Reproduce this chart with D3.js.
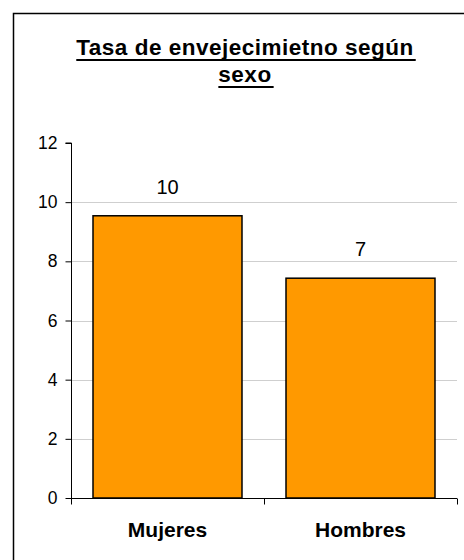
<!DOCTYPE html>
<html>
<head>
<meta charset="utf-8">
<script src="https://cdn.jsdelivr.net/npm/d3@7"></script>
<style>
  html, body { margin: 0; padding: 0; background: #fff; }
  svg { display: block; font-family: "Liberation Sans", Arial, sans-serif; }
</style>
</head>
<body>
<svg id="chart" width="464" height="560"></svg>
<script>
const titleLines = ["Tasa de envejecimietno según", "sexo"];
const categories = ["Mujeres", "Hombres"];
const values = [9.54, 7.43];
const valueLabels = ["10", "7"];
const yTicks = [0, 2, 4, 6, 8, 10, 12];

const svg = d3.select("#chart");
const W = 464, H = 560;
const margin = { left: 71, right: 7, top: 143, bottom: 62 };

// outer frame (extends beyond right/bottom edges)
svg.append("rect")
  .attr("x", 13.5).attr("y", 13.5)
  .attr("width", 500).attr("height", 600)
  .attr("fill", "#fff").attr("stroke", "#000").attr("stroke-width", 1.5);

// title with manual underline
const title = svg.append("g");
titleLines.forEach((t, i) => {
  const baseY = 55 + i * 27;
  const tx = title.append("text")
    .attr("x", 245).attr("y", baseY)
    .attr("text-anchor", "middle")
    .attr("font-size", 22.5).attr("font-weight", "bold")
    .attr("letter-spacing", "0.5px")
    .attr("fill", "#000")
    .text(t);
  const len = tx.node().getComputedTextLength();
  title.append("line")
    .attr("x1", 245 - len / 2).attr("x2", 245 + len / 2 + 2)
    .attr("y1", baseY + 5).attr("y2", baseY + 5)
    .attr("stroke", "#000").attr("stroke-width", 2);
});

const y = d3.scaleLinear().domain([0, 12]).range([H - margin.bottom, margin.top]);
const x = d3.scaleBand().domain(categories).range([margin.left, W - margin.right]).padding(0);

// gridlines
svg.append("g")
  .selectAll("line")
  .data(yTicks.filter(d => d > 0 && d < 12))
  .join("line")
  .attr("x1", margin.left).attr("x2", W - margin.right)
  .attr("y1", d => Math.round(y(d)) + 0.5).attr("y2", d => Math.round(y(d)) + 0.5)
  .attr("stroke", "#cfcfcf").attr("stroke-width", 1);

// bars
const inset = 0.114;
svg.append("g")
  .selectAll("rect")
  .data(values)
  .join("rect")
  .attr("x", (d, i) => x(categories[i]) + x.bandwidth() * inset)
  .attr("width", x.bandwidth() * (1 - 2 * inset))
  .attr("y", d => y(d))
  .attr("height", d => y(0) - y(d))
  .attr("fill", "#FF9900")
  .attr("stroke", "#000").attr("stroke-width", 1.5);

// value labels
svg.append("g")
  .selectAll("text")
  .data(values)
  .join("text")
  .attr("x", (d, i) => x(categories[i]) + x.bandwidth() / 2)
  .attr("y", d => y(d) - 22)
  .attr("text-anchor", "middle")
  .attr("font-size", 20)
  .attr("fill", "#000")
  .text((d, i) => valueLabels[i]);

// y axis
const yAxis = d3.axisLeft(y).tickValues(yTicks).tickSize(6).tickPadding(8).tickFormat(d3.format("d"));
const gy = svg.append("g").attr("transform", `translate(${margin.left + 0.5},0)`).call(yAxis);
gy.select(".domain").attr("stroke", "#000").attr("d", `M-6,${y(12)}H0V${y(0)}`);
gy.selectAll(".tick line").attr("stroke", "#000");
gy.selectAll(".tick text")
  .attr("font-size", 17.5).attr("font-family", "Liberation Sans, Arial, sans-serif")
  .attr("fill", "#000");

// x axis
const gx = svg.append("g").attr("transform", `translate(0,${Math.round(y(0)) + 0.5})`);
gx.append("line")
  .attr("x1", margin.left).attr("x2", W - margin.right)
  .attr("stroke", "#000");
const boundaries = categories.map(c => x(c)).concat([x(categories[categories.length - 1]) + x.bandwidth()]);
gx.selectAll("line.tk")
  .data(boundaries)
  .join("line").attr("class", "tk")
  .attr("x1", d => Math.round(d) + 0.5).attr("x2", d => Math.round(d) + 0.5)
  .attr("y1", 0).attr("y2", 6)
  .attr("stroke", "#000");
gx.selectAll("text.cat")
  .data(categories)
  .join("text").attr("class", "cat")
  .attr("x", d => x(d) + x.bandwidth() / 2)
  .attr("y", 38)
  .attr("text-anchor", "middle")
  .attr("font-size", 21).attr("font-weight", "bold")
  .attr("fill", "#000")
  .text(d => d);
</script>
</body>
</html>
